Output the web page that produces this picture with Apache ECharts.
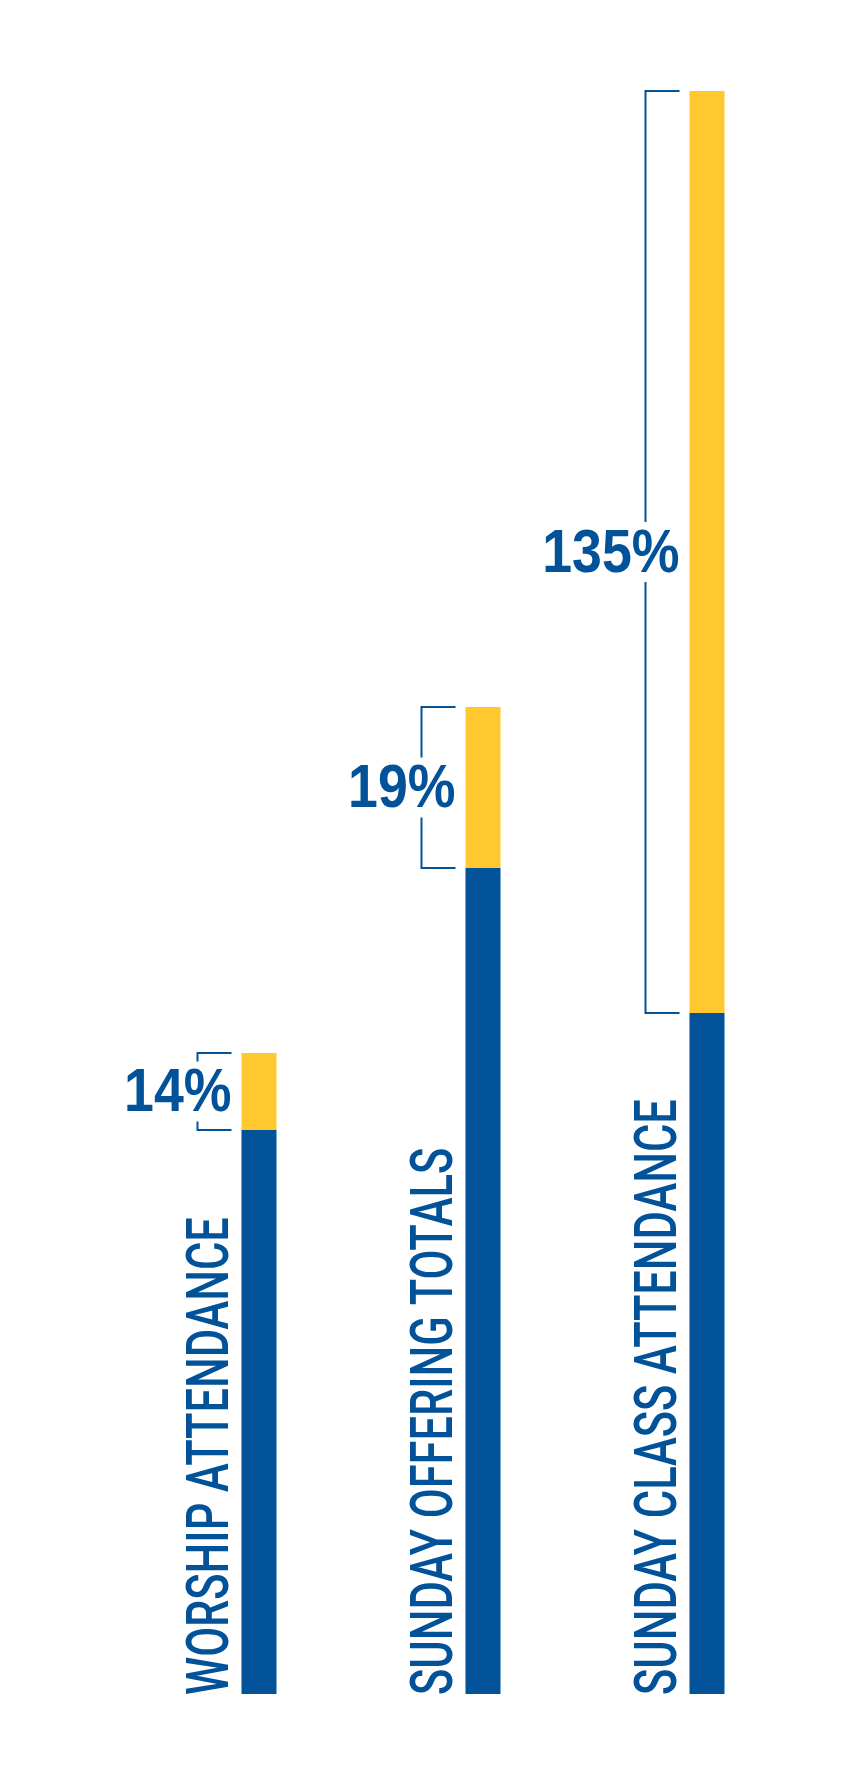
<!DOCTYPE html>
<html>
<head>
<meta charset="utf-8">
<title>Growth</title>
<script src="https://cdn.jsdelivr.net/npm/echarts@6/dist/echarts.min.js"></script>
<style>
  html, body { margin: 0; padding: 0; background: #fff; }
  #chart { width: 849px; height: 1787px; }
</style>
</head>
<body>
<div id="chart"></div>
<script>
const categories = ['WORSHIP ATTENDANCE', 'SUNDAY OFFERING TOTALS', 'SUNDAY CLASS ATTENDANCE']
const baseValues = [564, 826, 681]
const increaseValues = [77, 161, 922]
const growthLabels = ['14%', '19%', '135%']

const BLUE = '#02529a'
const YELLOW = '#ffc82e'
const BAR_W = 35

// brackets, percent labels and rotated category names
function renderNotes(params, api) {
  const i = api.value(0)
  const base = api.value(1)
  const inc = api.value(2)
  const bottom = api.coord([i, 0])
  const mid = api.coord([i, base])
  const top = api.coord([i, base + inc])
  const barLeft = bottom[0] - BAR_W / 2
  const lineX = barLeft - 44
  const endX = barLeft - 10
  const centerY = (top[1] + mid[1]) / 2
  const gap = 30
  const line = { stroke: BLUE, lineWidth: 2, fill: null }

  const children = [
    {
      type: 'polyline',
      shape: { points: [[endX, top[1]], [lineX, top[1]], [lineX, Math.min(centerY - gap, mid[1])]] },
      style: line
    },
    {
      type: 'polyline',
      shape: { points: [[endX, mid[1]], [lineX, mid[1]], [lineX, Math.max(centerY + gap, top[1])]] },
      style: line
    },
    {
      type: 'text',
      x: barLeft - 10,
      y: centerY + 3,
      scaleX: 0.88,
      style: {
        text: growthLabels[i],
        font: 'bold 61px "Liberation Sans", Arial, sans-serif',
        fill: BLUE,
        align: 'right',
        verticalAlign: 'middle'
      }
    },
    {
      type: 'text',
      x: barLeft - 28,
      y: bottom[1] + 1,
      rotation: Math.PI / 2,
      scaleX: 0.735,
      style: {
        text: categories[i],
        font: '500 59px Roboto, "Liberation Sans", sans-serif',
        fill: BLUE,
        align: 'left',
        verticalAlign: 'middle'
      }
    }
  ]
  return { type: 'group', children: children }
}

const chart = echarts.init(document.getElementById('chart'))
chart.setOption({
  animation: false,
  grid: { left: 147, right: 30, top: 91, bottom: 93 },
  xAxis: { type: 'category', data: categories, show: false },
  yAxis: { type: 'value', show: false, min: 0, max: v => v.max },
  series: [
    {
      name: 'before',
      type: 'bar',
      stack: 'total',
      barWidth: BAR_W,
      itemStyle: { color: BLUE },
      data: baseValues
    },
    {
      name: 'increase',
      type: 'bar',
      stack: 'total',
      barWidth: BAR_W,
      itemStyle: { color: YELLOW },
      data: increaseValues
    },
    {
      type: 'custom',
      silent: true,
      encode: { x: 0, y: 1 },
      renderItem: renderNotes,
      data: categories.map((c, i) => [i, baseValues[i], increaseValues[i]])
    }
  ]
})

window.addEventListener('resize', () => chart.resize())
</script>
</body>
</html>
